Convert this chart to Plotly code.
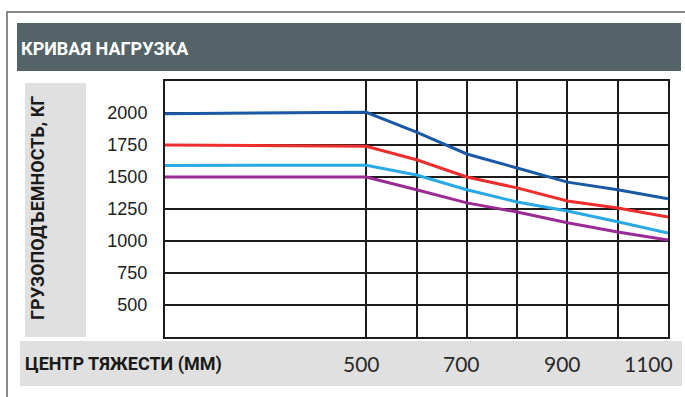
import plotly.graph_objects as go

# ---- data ----
center_mm = [100, 500, 600, 700, 800, 900, 1000, 1100]
load_blue = [1995, 2005, 1850, 1680, 1570, 1460, 1400, 1330]
load_red = [1750, 1740, 1635, 1500, 1415, 1312, 1258, 1187]
load_lightblue = [1590, 1592, 1515, 1400, 1305, 1235, 1150, 1062]
load_purple = [1500, 1500, 1400, 1298, 1227, 1142, 1070, 1008]

y_ticks = [500, 750, 1000, 1250, 1500, 1750, 2000]
x_grid = [500, 600, 700, 800, 900, 1000, 1100]
x_labels = [500, 700, 900, 1100]

title_text = "КРИВАЯ НАГРУЗКА"
y_title = "ГРУЗОПОДЪЕМНОСТЬ, КГ"
x_title = "ЦЕНТР ТЯЖЕСТИ (ММ)"

# ---- layout geometry (pixels) ----
WIDTH, HEIGHT = 685, 397
L, R, T, B = 165, 668, 81, 337
PW, PH = R - L, B - T


def px(x):
    return (x - L) / PW


def py(y):
    return (B - y) / PH


fig = go.Figure()
series = [
    (load_blue, "#1b58a6"),
    (load_red, "#ee2d2d"),
    (load_lightblue, "#29a9e6"),
    (load_purple, "#9a2b95"),
]
for vals, col in series:
    fig.add_trace(go.Scatter(x=center_mm, y=vals, mode="lines",
                             line=dict(color=col, width=3), hoverinfo="skip",
                             showlegend=False))

shapes = [
    # outer frame
    dict(type="rect", xref="paper", yref="paper", x0=px(7), x1=px(700),
         y0=py(420), y1=py(12), line=dict(color="#8a8a8a", width=2),
         fillcolor="rgba(0,0,0,0)", layer="below"),
    # title bar
    dict(type="rect", xref="paper", yref="paper", x0=px(17), x1=px(681),
         y0=py(71), y1=py(23), line=dict(width=0), fillcolor="#536367",
         layer="below"),
    # y title band
    dict(type="rect", xref="paper", yref="paper", x0=px(25), x1=px(86),
         y0=py(337), y1=py(83), line=dict(width=0), fillcolor="#dfe0df",
         layer="below"),
    # x title band
    dict(type="rect", xref="paper", yref="paper", x0=px(20), x1=px(682),
         y0=py(386), y1=py(341), line=dict(width=0), fillcolor="#dfe0df",
         layer="below"),
]

annotations = [
    dict(text=title_text, xref="paper", yref="paper", x=px(19), y=py(48),
         xanchor="left", yanchor="middle", showarrow=False,
         font=dict(family="Roboto", size=18, color="white", weight="bold")),
    dict(text=y_title, xref="paper", yref="paper", x=px(37), y=py(208),
         xanchor="center", yanchor="middle", showarrow=False, textangle=-90,
         font=dict(family="Roboto", size=18, color="#1a1a1a", weight="bold")),
    dict(text=x_title, xref="paper", yref="paper", x=px(23), y=py(364),
         xanchor="left", yanchor="middle", showarrow=False,
         font=dict(family="Roboto", size=18, color="#1a1a1a", weight="bold")),
]
for i, v in enumerate(x_labels):
    last = i == len(x_labels) - 1
    annotations.append(dict(
        text=str(v), xref="x", yref="paper", x=v, y=py(363),
        xanchor="right" if last else "center", yanchor="middle",
        xshift=7 if last else -5, showarrow=False,
        font=dict(family="Lato", size=21, color="#2a2a2a")))

fig.update_layout(
    width=WIDTH, height=HEIGHT,
    margin=dict(l=L, r=WIDTH - R, t=T, b=HEIGHT - B, pad=0),
    paper_bgcolor="white", plot_bgcolor="white",
    shapes=shapes, annotations=annotations,
    xaxis=dict(range=[center_mm[0], center_mm[-1]], tickvals=x_grid,
               showticklabels=False, showgrid=True, gridcolor="#1c1c1c",
               gridwidth=1.5, zeroline=False, showline=True, mirror=True,
               linecolor="#1c1c1c", linewidth=2, ticks=""),
    yaxis=dict(range=[250, 2250], tickvals=y_ticks, showgrid=True,
               gridcolor="#1c1c1c", gridwidth=1.5, zeroline=False,
               showline=True, mirror=True, linecolor="#1c1c1c", linewidth=2,
               ticks="", ticklabelstandoff=12,
               tickfont=dict(family="Liberation Sans", size=18,
                             color="#222222")),
)

fig.write_html("out.html",
               config={"displayModeBar": False},
               post_script="document.body.style.margin='0';"
                           "document.body.style.overflow='hidden';")
